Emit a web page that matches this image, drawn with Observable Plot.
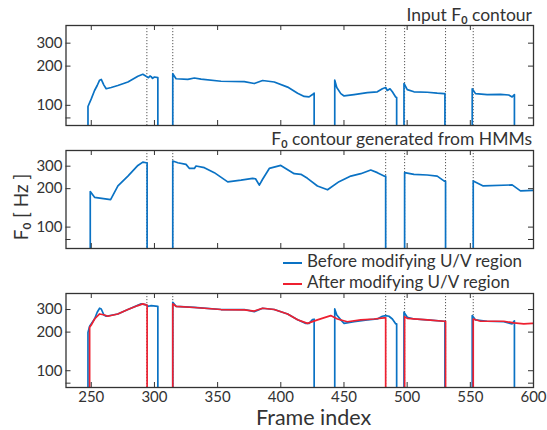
<!DOCTYPE html>
<html><head><meta charset="utf-8">
<script src="https://cdn.jsdelivr.net/npm/d3@7"></script>
<script src="https://cdn.jsdelivr.net/npm/@observablehq/plot@0.6"></script>
<style>
body{margin:0;background:#fff;}
#wrap{position:relative;width:547px;height:430px;font-family:"Lato",sans-serif;color:#333;overflow:hidden;}
#wrap svg{position:absolute;left:0;}
.t{position:absolute;white-space:nowrap;color:#333;line-height:1;}
.t b{font-size:0.62em;font-weight:700;position:relative;top:0.25em;}
.leg{position:absolute;white-space:nowrap;font-size:17px;left:283px;color:#333;line-height:1;}
.leg span.sw{display:inline-block;width:19px;height:0;border-top:2px solid;vertical-align:middle;margin-right:5px;}
</style></head>
<body><div id="wrap"></div>
<script>
// U/V boundaries (frame index)
const boundaries = [294, 314.5, 483, 498, 530.4, 552.3];
const xTicks = [250, 300, 350, 400, 450, 500, 550, 600];
const yTickLabels = [100, 200, 300];
const yTicksAll = [80, 100, 200, 300];

// Panel 1: input F0 contour (segments)
const inputFrames = [
  [247.4,247.4,250,252.6,254.7,256.6,257.9,260,261.8,265.8,271,279,286.9,290.8,293.4,295.3,296.5,297.4,298.5,300,302.7,302.7],
  [314.5,314.5,317.1,326.4,331.6,336.9,352.7,371.1,379,385.6,394.8,405.4,413.3,418.5,422.4,425.1,426.4,426.4],
  [442.7,442.7,444.3,447.5,450.1,458,468.5,476.4,480.4,483,484.3,486.4,488.3,490.9,491.7,491.7],
  [497.5,497.5,500.1,505.4,515.9,523.8,529.1,529.9,529.9],
  [551.5,551.5,554.1,563.3,573.9,580.4,583.1,584.9,584.9]
];
const inputF0 = [
  [50,98,112,130,142,156,158,143,134,137,142,151,167,173,167,163,168,166,161,165,163,50],
  [50,175,160,158,162,159,153,152,147,155,151,138,124,117,116,121,124,50],
  [50,156,137,123,118,121,125,127,134,137,130,134,127,116,115,50],
  [50,147,132,127,126,124,123,123,50],
  [50,134,123,121,121.5,120,116,121,50]
];

// Panel 2: F0 contour generated from HMMs
const hmmFrames = [
  [249.2,249.2,252.6,265.3,271.1,279,286.9,290.8,293.4,294.2,294.2],
  [314.5,314.5,318.5,325,327.7,331.6,332.9,339.5,347.4,358,368.5,377.7,380,383,385.6,390.9,400,410.6,415.9,421.1,429,437,446.1,455.4,463.3,471.2,476.4,481.7,483,483],
  [498,498,505.4,515.9,523.8,529.1,530.4,530.4],
  [552.3,552.3,560.2,583.1,589.7,600]
];
const hmmF0 = [
  [50,190,171,164,210,251,304,323,319,318,50],
  [50,329,319,310,288,288,301,292,267,226,233,241,239,213,237,288,304,262,259,241,210,196,227,251,262,280,267,251,251,50],
  [50,267,259,256,251,230,228,50],
  [50,230,210,214,192,194]
];

// Panel 3: before modifying U/V region
const beforeFrames = [
  [247.4,247.4,248.7,252.6,254.7,256.6,257.9,260,261.8,271,279,289.5,293.4,295.3,297.4,302.7,302.7],
  [314.5,314.5,317.1,331.6,352.7,371.1,379,385.6,394.8,405.4,413.3,419.8,422.4,425.1,426.4,426.4],
  [442.7,442.7,444.3,447.5,450.1,458,468.5,476.4,480.4,483,485.6,488.3,490.9,491.7,491.7],
  [497.5,497.5,500.1,505.4,515.9,529.1,529.9,529.9],
  [551.5,551.5,554.1,563.3,576.5,583.1,584.9,584.9]
];
const beforeF0 = [
  [50,199,222,253,286,307,303,272,266,277,300,332,326,318,322,318,50],
  [50,342,318,312,300,300,289,307,300,277,250,234,234,250,252,50],
  [50,303,272,249,234,241,249,253,266,269,266,253,232,232,50],
  [50,286,261,253,249,243,243,50],
  [50,269,249,243,241,232,245,50]
];

// Panel 3: after modifying U/V region
const afterFrames = [
  [248.7,248.7,250,252.6,256.6,260.5,263.1,271,279,286.9,290.8,293.4,294.2,294.2],
  [314.5,314.5,317.1,331.6,352.7,371.1,379,385.6,394.8,405.4,413.3,421.1,429,439.5,444.8,452.7,463.3,473.8,481.7,483,483],
  [498,498,500.1,515.9,529.1,530.4,530.4],
  [552.3,552.3,558.1,576.5,584.4,592.3,598.9,600]
];
const afterF0 = [
  [50,218,227,253,277,272,266,277,300,322,332,326,325,50],
  [50,332,318,311,300,298,292,307,300,277,250,234,249,269,253,241,249,253,258,258,50],
  [50,264,256,249,243,243,50],
  [50,253,243,243,236,232,234,234]
];

const BLUE = "#0a72c4", RED = "#ee2030", INK = "#333";
const W = 547, ML = 65.5, MR = 14;
const innerW = W - ML - MR;

function rows(frames, vals) {
  return frames.flatMap((seg, s) => seg.map((f, i) => ({frame: f, f0: vals[s][i], seg: s})));
}

function panel({top, mt, h, mb, domain, series, xLabels}) {
  const marks = [
    Plot.ruleX(boundaries, {stroke: "#555", strokeWidth: 1, strokeDasharray: "1.2,1.8"}),
    ...series.map(s => Plot.line(rows(s.frames, s.vals), {x: "frame", y: "f0", z: "seg", stroke: s.color, strokeWidth: 1.7, clip: true})),
    Plot.ruleX(xTicks, {insetTop: h - 5, stroke: INK}),
    Plot.ruleX(xTicks, {insetBottom: h - 5, stroke: INK}),
    Plot.ruleY(yTicksAll, {insetRight: innerW - 5, stroke: INK}),
    Plot.ruleY(yTicksAll, {insetLeft: innerW - 5, stroke: INK}),
    Plot.axisY(yTickLabels, {tickSize: 0, tickPadding: 3.5, tickFormat: d => d, fill: INK, label: null}),
    xLabels ? Plot.axisX(xTicks, {tickSize: 0, tickPadding: 4, tickFormat: d => d, fill: INK, label: null}) : null,
    Plot.frame({stroke: INK, strokeWidth: 1.3})
  ];
  const svg = Plot.plot({
    width: W, height: mt + h + mb,
    marginLeft: ML, marginRight: MR, marginTop: mt, marginBottom: mb,
    x: {domain: [230, 600], axis: null, label: null},
    y: {type: "log", domain, axis: null, label: null},
    style: {fontSize: "15px", fontFamily: "Lato, sans-serif", background: "transparent", overflow: "visible"},
    marks
  });
  svg.style.top = top + "px";
  return svg;
}

const wrap = document.getElementById("wrap");
wrap.appendChild(panel({top: 0, mt: 25, h: 100, mb: 3, domain: [70, 410],
  series: [{frames: inputFrames, vals: inputF0, color: BLUE}]}));
wrap.appendChild(panel({top: 130, mt: 20, h: 98, mb: 3, domain: [68, 398],
  series: [{frames: hmmFrames, vals: hmmF0, color: BLUE}]}));
wrap.appendChild(panel({top: 253, mt: 40, h: 94, mb: 22, domain: [74, 400], xLabels: true,
  series: [{frames: beforeFrames, vals: beforeF0, color: BLUE}, {frames: afterFrames, vals: afterF0, color: RED}]}));

function addText(html, css) {
  const d = document.createElement("div");
  d.className = "t";
  d.innerHTML = html;
  Object.assign(d.style, css);
  wrap.appendChild(d);
  return d;
}
addText("Input F<b>0</b> contour", {right: "15px", top: "6px", fontSize: "17.5px"});
addText("F<b>0</b> contour generated from HMMs", {right: "15px", top: "130px", fontSize: "17.5px"});
addText("Frame index", {left: "256px", top: "407px", fontSize: "21.5px"});
addText("F<b>0</b> [ Hz ]", {left: "20px", top: "207px", fontSize: "19px", transform: "translate(-50%,-50%) rotate(-90deg)"});

const legend = [["Before modifying U/V region", BLUE, 252], ["After modifying U/V region", RED, 273]];
for (const [label, color, top] of legend) {
  const d = document.createElement("div");
  d.className = "leg";
  d.style.top = top + "px";
  d.innerHTML = `<span class="sw" style="border-color:${color}"></span>${label}`;
  wrap.appendChild(d);
}
</script></body></html>
